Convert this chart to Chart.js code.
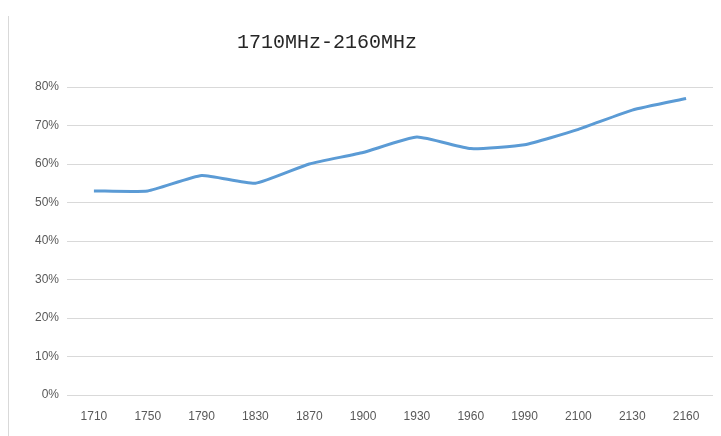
<!DOCTYPE html>
<html>
<head>
<meta charset="utf-8">
<script src="https://cdn.jsdelivr.net/npm/chart.js@4/dist/chart.umd.min.js"></script>
<style>
  html, body { margin: 0; padding: 0; background: #fff; }
  #wrap { width: 721px; height: 436px; position: relative; }
</style>
</head>
<body>
<div id="wrap"><canvas id="myChart" width="721" height="436"></canvas></div>
<script>
const titleText = '1710MHz-2160MHz';
const frequencies = ['1710', '1750', '1790', '1830', '1870', '1900', '1930', '1960', '1990', '2100', '2130', '2160'];
const efficiency = [53, 53, 57, 55, 60, 63, 67, 64, 65, 69, 74, 77];
const yTicks = [0, 10, 20, 30, 40, 50, 60, 70, 80];

// frame line on the left and the title, drawn like the excel picture
const decor = {
    id: 'decor',
    beforeDraw(chart) {
        const ctx = chart.ctx;
        ctx.save();
        ctx.strokeStyle = '#d9d9d9';
        ctx.lineWidth = 1;
        ctx.beginPath();
        ctx.moveTo(8.5, 16);
        ctx.lineTo(8.5, 436);
        ctx.stroke();
        ctx.fillStyle = '#262626';
        ctx.font = '20px "Liberation Mono"';
        ctx.textAlign = 'center';
        ctx.textBaseline = 'middle';
        ctx.fillText(titleText, 327, 43);
        ctx.restore();
    }
};

const config = {
    type: 'line',
    data: {
        labels: frequencies,
        datasets: [{
            data: efficiency,
            borderColor: '#5b9bd5',
            borderWidth: 3,
            pointRadius: 0,
            tension: 0.15,
            fill: false
        }]
    },
    options: {
        responsive: false,
        animation: false,
        layout: { padding: { top: 87, right: 8, left: 0, bottom: 0 } },
        plugins: {
            legend: { display: false },
            tooltip: { enabled: false }
        },
        scales: {
            x: {
                offset: true,
                grid: { display: false },
                border: { display: false },
                ticks: {
                    color: '#595959',
                    font: { family: 'Liberation Sans', size: 12 },
                    padding: 6,
                    maxRotation: 0
                },
                afterFit(scale) { scale.height = 41; }
            },
            y: {
                min: 0,
                max: 80,
                afterBuildTicks(scale) { scale.ticks = yTicks.map(v => ({ value: v })); },
                grid: { color: '#d9d9d9', lineWidth: 1, drawTicks: false },
                border: { display: false },
                ticks: {
                    color: '#595959',
                    font: { family: 'Liberation Sans', size: 12 },
                    padding: 8,
                    callback: v => v + '%'
                },
                afterFit(scale) { scale.width = 67; }
            }
        }
    },
    plugins: [decor]
};

const myChart = new Chart(document.getElementById('myChart'), config);
</script>
</body>
</html>
